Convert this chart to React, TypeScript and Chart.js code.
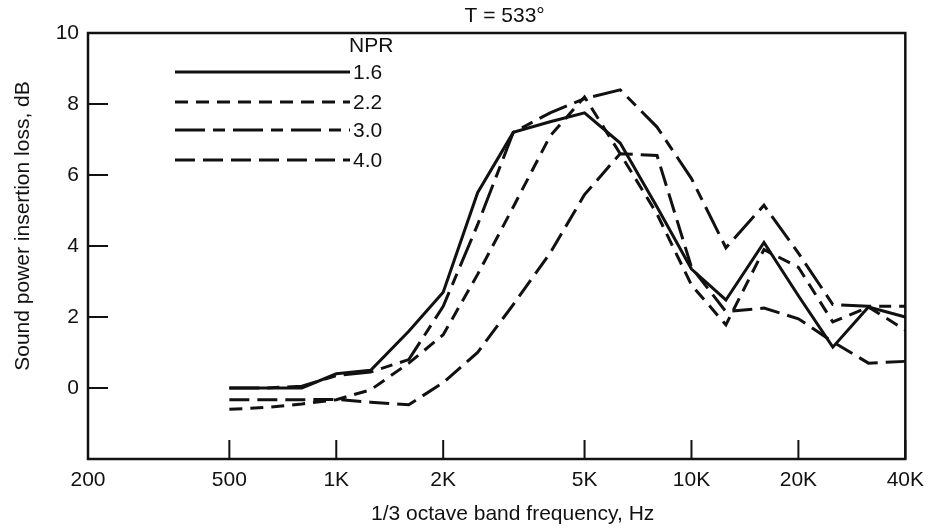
import React, { useEffect, useRef } from "react";
import { Chart, registerables } from "chart.js";

Chart.register(...registerables);

// 1/3 octave band centre frequencies (Hz)
const frequencies = [500, 630, 800, 1000, 1250, 1600, 2000, 2500, 3150, 4000, 5000, 6300, 8000, 10000, 12500, 16000, 20000, 25000, 31500, 40000];

// Sound power insertion loss, dB
const npr16 = [0.0, 0.0, 0.0, 0.4, 0.5, 1.6, 2.7, 5.5, 7.2, 7.5, 7.75, 6.9, 5.1, 3.35, 2.48, 4.1, 2.6, 1.15, 2.28, 2.0];
const npr22 = [-0.6, -0.55, -0.45, -0.33, -0.05, 0.7, 1.5, 3.2, 5.1, 7.1, 8.2, 6.6, 4.9, 2.9, 1.78, 3.9, 3.4, 1.86, 2.28, 1.63];
const npr30 = [0.0, 0.0, 0.05, 0.35, 0.45, 0.8, 2.3, 4.6, 7.2, 7.75, 8.15, 8.4, 7.35, 5.9, 3.95, 5.15, 3.8, 2.35, 2.3, 2.3];
const npr40 = [-0.33, -0.33, -0.33, -0.32, -0.4, -0.47, 0.15, 1.0, 2.35, 3.8, 5.45, 6.6, 6.55, 3.4, 2.15, 2.25, 1.95, 1.3, 0.7, 0.75];

const seriesLabels = ["1.6", "2.2", "3.0", "4.0"];
const seriesValues = [npr16, npr22, npr30, npr40];
const seriesDashes = [[], [13, 8], [30, 8, 12, 8], [20, 8]];

const xTickValues = [200, 500, 1000, 2000, 5000, 10000, 20000, 40000];
const xTickLabels = ["200", "500", "1K", "2K", "5K", "10K", "20K", "40K"];
const yTickValues = [0, 2, 4, 6, 8, 10];

const chartTitle = "T = 533°";
const xTitle = "1/3 octave band frequency, Hz";
const yTitle = "Sound power insertion loss, dB";
const legendTitle = "NPR";

const FONT = "'Liberation Sans', Arial, Helvetica, sans-serif";
const INK = "#111";

const framePlugin = {
  id: "framePlugin",
  afterDatasetsDraw(chart: any) {
    const { ctx, chartArea: a, scales } = chart;
    const xs = scales.x;
    const ys = scales.y;
    ctx.save();
    ctx.strokeStyle = INK;
    ctx.setLineDash([]);
    // box
    ctx.lineWidth = 2.5;
    ctx.strokeRect(a.left, a.top, a.right - a.left, a.bottom - a.top);
    // inward ticks
    ctx.lineWidth = 2;
    ctx.beginPath();
    xTickValues.forEach((v) => {
      const px = xs.getPixelForValue(v);
      ctx.moveTo(px, a.bottom);
      ctx.lineTo(px, a.bottom - 19);
    });
    yTickValues.forEach((v) => {
      const py = ys.getPixelForValue(v);
      ctx.moveTo(a.left, py);
      ctx.lineTo(a.left + 20, py);
    });
    ctx.stroke();

    // titles
    ctx.fillStyle = INK;
    ctx.font = `21px ${FONT}`;
    ctx.textAlign = "center";
    ctx.textBaseline = "middle";
    ctx.fillText(chartTitle, (a.left + a.right) / 2 + 8, 16);
    ctx.fillText(xTitle, (a.left + a.right) / 2 + 16, 514);
    ctx.save();
    ctx.translate(23, (a.top + a.bottom) / 2 - 20);
    ctx.rotate(-Math.PI / 2);
    ctx.fillText(yTitle, 0, 0);
    ctx.restore();

    // legend
    const x0 = a.left + 87;
    const x1 = a.left + 262;
    const rows = [72, 102, 130, 160];
    ctx.textAlign = "left";
    ctx.fillText(legendTitle, x1 - 1, 46);
    seriesLabels.forEach((lab, i) => {
      ctx.lineWidth = 3;
      ctx.setLineDash(seriesDashes[i]);
      ctx.beginPath();
      ctx.moveTo(x0, rows[i]);
      ctx.lineTo(x1, rows[i]);
      ctx.stroke();
      ctx.setLineDash([]);
      ctx.fillText(lab, x1 + 3, rows[i] + 1);
    });
    ctx.restore();
  },
};

export default function App() {
  const ref = useRef<HTMLCanvasElement | null>(null);

  useEffect(() => {
    document.body.style.margin = "0";
    const canvas = ref.current;
    if (!canvas) return;
    const datasets = seriesLabels.map((lab, i) => ({
      label: lab,
      data: frequencies.map((f, j) => ({ x: f, y: seriesValues[i][j] })),
      borderColor: INK,
      borderWidth: 3,
      borderDash: seriesDashes[i],
      pointRadius: 0,
      tension: 0,
      fill: false,
    }));
    const chart = new Chart(canvas, {
      type: "line",
      data: { datasets },
      plugins: [framePlugin],
      options: {
        responsive: false,
        animation: false,
        layout: { padding: { left: 0, top: 33, right: 26, bottom: 0 } },
        plugins: { legend: { display: false }, tooltip: { enabled: false }, title: { display: false } },
        scales: {
          x: {
            type: "logarithmic",
            min: 200,
            max: 40000,
            grid: { display: false, drawTicks: false },
            border: { display: false },
            afterBuildTicks: (scale: any) => {
              scale.ticks = xTickValues.map((v) => ({ value: v }));
            },
            afterFit: (scale: any) => {
              scale.height = 532 - 459;
            },
            ticks: {
              autoSkip: false,
              maxRotation: 0,
              padding: 9,
              color: INK,
              font: { family: FONT, size: 21 },
              callback: (_v: any, i: number) => xTickLabels[i],
            },
          },
          y: {
            type: "linear",
            min: -2,
            max: 10,
            grid: { display: false, drawTicks: false },
            border: { display: false },
            afterBuildTicks: (scale: any) => {
              scale.ticks = yTickValues.map((v) => ({ value: v }));
            },
            afterFit: (scale: any) => {
              scale.width = 88;
            },
            ticks: {
              padding: 9,
              color: INK,
              font: { family: FONT, size: 21 },
              callback: (v: any) => String(v),
            },
          },
        },
      },
    });
    return () => chart.destroy();
  }, []);

  return (
    <div style={{ width: 933, height: 532, background: "#fff" }}>
      <canvas ref={ref} width={933} height={532} style={{ display: "block" }} />
    </div>
  );
}
